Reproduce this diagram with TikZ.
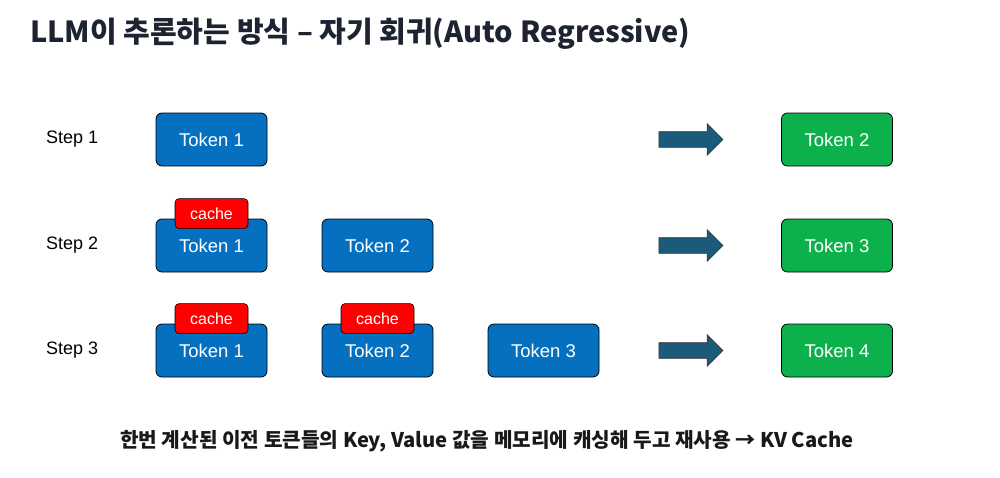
\documentclass[tikz,border=0pt]{standalone}
\usepackage{fontspec}
\setmainfont{Liberation Sans}
\newfontfamily\krfont{Noto Sans CJK KR}
\usetikzlibrary{shapes.arrows,positioning}
\definecolor{tokblue}{HTML}{0570C0}
\definecolor{outgreen}{HTML}{0DB14B}
\definecolor{arrteal}{HTML}{1B5A7A}
\definecolor{titleink}{HTML}{1D2330}
\tikzset{
  tokbox/.style={draw=black, line width=0.8pt, rounded corners=6pt, fill=tokblue, text=white,
    minimum width=111pt, minimum height=53pt, inner sep=0pt, font=\fontsize{18.5}{22}\selectfont},
  outbox/.style={tokbox, fill=outgreen},
  cachebox/.style={draw=black, line width=0.6pt, rounded corners=4pt, fill=red, text=white,
    minimum width=73pt, minimum height=30pt, inner sep=0pt, font=\fontsize{16}{19}\selectfont},
  steplabel/.style={anchor=west, inner sep=0pt, font=\fontsize{18}{22}\selectfont},
  bigarrow/.style={single arrow, draw=black!80, fill=arrteal, line width=0.6pt,
    minimum height=64pt, inner sep=7.5pt, single arrow head extend=8pt},
}

\begin{document}
\begin{tikzpicture}[x=1pt,y=-1pt]
  \useasboundingbox (0,0) rectangle (1000,477);
  \node[anchor=west, inner sep=0pt, text=titleink, font=\krfont\bfseries\fontsize{29}{34}\selectfont]
    (title) at (30,34) {LLM이 추론하는 방식 – 자기 회귀(Auto Regressive)};
  \foreach \r/\y in {1/139.5,2/245.5,3/350.5}{
    \node[steplabel] (step\r) at (46,\y) {Step \r};
    \foreach \t in {1,...,\r}{
      \node[tokbox] (tok\r\t) at ({211.5+166*(\t-1)},\y) {Token \t};
      \ifnum\t<\r\relax
        \node[cachebox, yshift=5pt] (cache\r\t) at (tok\r\t.north) {cache};
      \fi
    }
    \node[bigarrow] (arr\r) at (687,\y) {};
    \pgfmathtruncatemacro\nxt{\r+1}
    \node[outbox] (out\r) at (837,\y) {Token \nxt};
  }
  \node[inner sep=0pt, text=black!90, font=\krfont\bfseries\fontsize{20.2}{24}\selectfont]
    (note) at (487,441) {한번 계산된 이전 토큰들의 Key, Value 값을 메모리에 캐싱해 두고 재사용 → KV Cache};
\end{tikzpicture}
\end{document}
